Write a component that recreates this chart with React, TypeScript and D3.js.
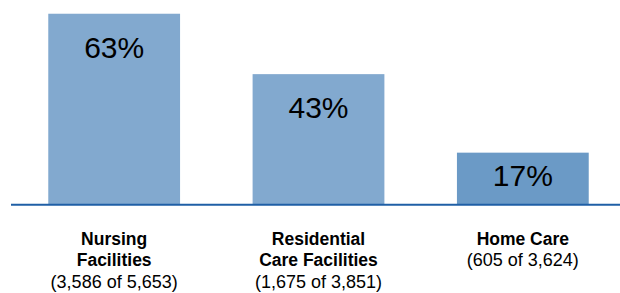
import React from "react";
import * as d3 from "d3";

const categories = ["Nursing Facilities", "Residential Care Facilities", "Home Care"];
const labelLines: string[][] = [["Nursing", "Facilities"], ["Residential", "Care Facilities"], ["Home Care"]];
const subLabels = ["(3,586 of 5,653)", "(1,675 of 3,851)", "(605 of 3,624)"];
const values = [63, 43, 17];
const barColors = ["#82A9CF", "#82A9CF", "#6B9AC6"];

const W = 620;
const H = 293;
const y0 = 204;

export default function App() {
  const x = d3
    .scaleBand<string>()
    .domain(categories)
    .range([12, 625])
    .paddingInner(0.355)
    .paddingOuter(0.1775);
  const y = d3.scaleLinear().domain([0, 100]).range([y0, y0 - 302]);
  const font = "'Liberation Sans', Arial, Helvetica, sans-serif";

  return (
    <svg
      width={W}
      height={H}
      style={{ position: "absolute", left: 0, top: 0, display: "block" }}
      fontFamily={font}
    >
      <rect x={0} y={0} width={W} height={H} fill="#fff" />
      {categories.map((c, i) => {
        const bx = x(c)!;
        const bw = x.bandwidth();
        const top = y(values[i]);
        const cx = bx + bw / 2;
        const labelY = Math.min(top + 44, (top + y0) / 2 + 8);
        return (
          <g key={c}>
            <rect x={bx} y={top} width={bw} height={y0 - top} fill={barColors[i]} />
            <text x={cx} y={labelY} textAnchor="middle" fontSize={30} fill="#000">
              {values[i]}%
            </text>
            {labelLines[i].map((l, j) => (
              <text
                key={j}
                x={cx}
                y={244.5 + j * 21.8}
                textAnchor="middle"
                fontSize={17.5}
                fontWeight="bold"
                fill="#000"
              >
                {l}
              </text>
            ))}
            <text
              x={cx}
              y={244.5 + labelLines[i].length * 21.8}
              textAnchor="middle"
              fontSize={18}
              fill="#000"
            >
              {subLabels[i]}
            </text>
          </g>
        );
      })}
      <line x1={11} x2={W} y1={y0 + 0.8} y2={y0 + 0.8} stroke="#1F5FA6" strokeWidth={2} />
    </svg>
  );
}
